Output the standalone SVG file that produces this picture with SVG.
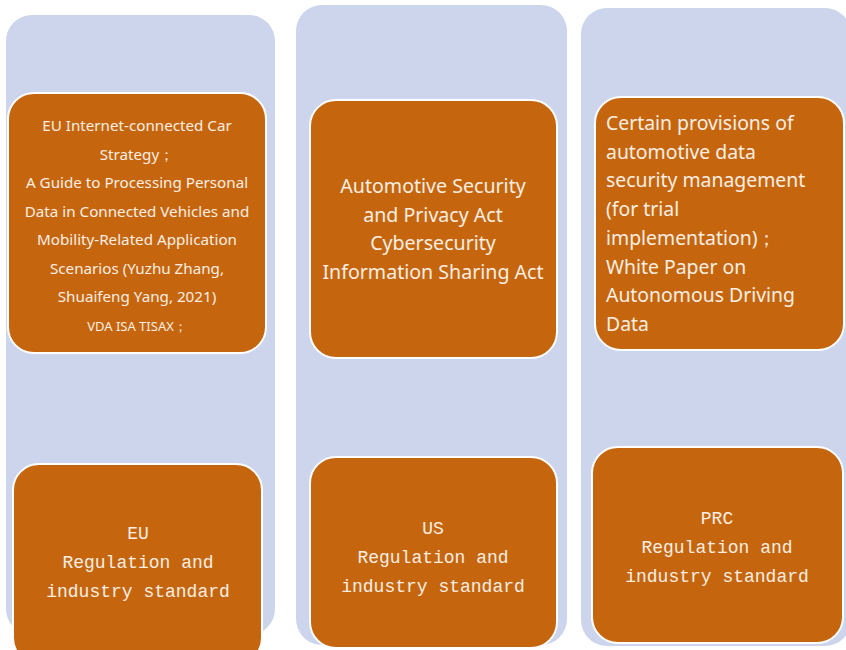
<svg xmlns="http://www.w3.org/2000/svg" width="846" height="650" viewBox="0 0 846 650">
  <style>
    .col { fill: #cdd5ec; }
    .box { fill: #c5660f; stroke: #ffffff; stroke-width: 2; }
    .sans { font-family: "Noto Sans", "Liberation Sans", Arial, sans-serif; fill: #faeee2; }
    .mono { font-family: "Liberation Mono", "Courier New", monospace; fill: #faeee2; font-size: 18px; text-anchor: middle; }
  </style>
  <rect width="846" height="650" fill="#ffffff"/>

  <!-- background columns -->
  <g id="columns">
    <rect class="col" x="6" y="15" width="269" height="620" rx="26"/>
    <rect class="col" x="296" y="5" width="271" height="640" rx="26"/>
    <rect class="col" x="581" y="8" width="270" height="638" rx="26"/>
  </g>

  <!-- EU detail -->
  <g id="eu-detail">
    <rect class="box" x="8" y="93" width="258" height="260" rx="26"/>
    <g class="sans" font-size="15.2" text-anchor="middle">
      <text x="137" y="131">EU Internet-connected Car</text>
      <text x="137" y="160">Strategy；</text>
      <text x="137" y="188">A Guide to Processing Personal</text>
      <text x="137" y="217">Data in Connected Vehicles and</text>
      <text x="137" y="245">Mobility-Related Application</text>
      <text x="137" y="274">Scenarios (Yuzhu Zhang,</text>
      <text x="137" y="302">Shuaifeng Yang, 2021)</text>
      <text x="137" y="331" font-size="13">VDA ISA TISAX；</text>
    </g>
  </g>

  <!-- US detail -->
  <g id="us-detail">
    <rect class="box" x="310" y="100" width="247" height="258" rx="26"/>
    <g class="sans" font-size="19.6" text-anchor="middle">
      <text x="433" y="193">Automotive Security</text>
      <text x="433" y="222">and Privacy Act</text>
      <text x="433" y="250">Cybersecurity</text>
      <text x="433" y="279">Information Sharing Act</text>
    </g>
  </g>

  <!-- PRC detail -->
  <g id="prc-detail">
    <rect class="box" x="595" y="97" width="249" height="253" rx="26"/>
    <g class="sans" font-size="19.4">
      <text x="606" y="130">Certain provisions of</text>
      <text x="606" y="159">automotive data</text>
      <text x="606" y="187">security management</text>
      <text x="606" y="216">(for trial</text>
      <text x="606" y="245">implementation)；</text>
      <text x="606" y="274">White Paper on</text>
      <text x="606" y="302">Autonomous Driving</text>
      <text x="606" y="331">Data</text>
    </g>
  </g>

  <!-- region labels -->
  <g id="eu-label">
    <rect class="box" x="13" y="464" width="249" height="200" rx="26"/>
    <text class="mono" x="138" y="539">EU</text>
    <text class="mono" x="138" y="568">Regulation and</text>
    <text class="mono" x="138" y="597">industry standard</text>
  </g>
  <g id="us-label">
    <rect class="box" x="310" y="457" width="247" height="191" rx="26"/>
    <text class="mono" x="433" y="534">US</text>
    <text class="mono" x="433" y="563">Regulation and</text>
    <text class="mono" x="433" y="592">industry standard</text>
  </g>
  <g id="prc-label">
    <rect class="box" x="592" y="447" width="251" height="196" rx="26"/>
    <text class="mono" x="717" y="524">PRC</text>
    <text class="mono" x="717" y="553">Regulation and</text>
    <text class="mono" x="717" y="582">industry standard</text>
  </g>

  <g id="connectors"/>
</svg>
